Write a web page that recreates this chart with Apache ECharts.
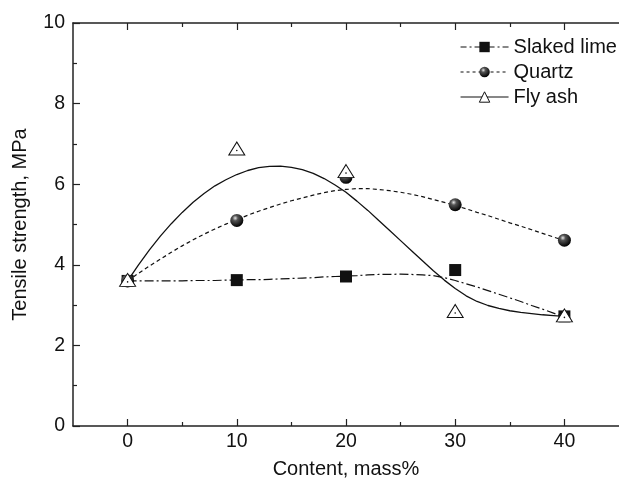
<!DOCTYPE html>
<html>
<head>
<meta charset="utf-8">
<script src="https://cdn.jsdelivr.net/npm/echarts@6/dist/echarts.min.js"></script>
<style>
  html, body { margin: 0; padding: 0; background: #fff; }
  #chart { width: 619px; height: 484px; }
</style>
</head>
<body>
<div id="chart"></div>
<script>
// Measured tensile strength (MPa) at each additive content (mass%)
const contents = [0, 10, 20, 30, 40];
const slakedLime = [3.6, 3.62, 3.71, 3.87, 2.72];
const quartz = [3.6, 5.1, 6.17, 5.49, 4.61];
const flyAsh = [3.6, 6.86, 6.3, 2.83, 2.72];

// Fitted trend curves, sampled at every 1 mass%
const fitContents = [0, 1, 2, 3, 4, 5, 6, 7, 8, 9, 10, 11, 12, 13, 14, 15, 16, 17, 18, 19, 20,
                     21, 22, 23, 24, 25, 26, 27, 28, 29, 30, 31, 32, 33, 34, 35, 36, 37, 38, 39, 40];
const slakedLimeFit = [3.60, 3.60, 3.60, 3.60, 3.60, 3.60, 3.61, 3.61, 3.61, 3.62, 3.62,
                       3.63, 3.63, 3.64, 3.65, 3.66, 3.67, 3.68, 3.70, 3.71, 3.72,
                       3.73, 3.75, 3.76, 3.76, 3.77, 3.76, 3.75, 3.73, 3.68, 3.61,
                       3.53, 3.45, 3.36, 3.27, 3.18, 3.09, 2.99, 2.90, 2.80, 2.70];
const quartzFit = [3.60, 3.79, 3.97, 4.14, 4.31, 4.47, 4.62, 4.76, 4.89, 5.01, 5.12,
                   5.23, 5.33, 5.42, 5.51, 5.59, 5.66, 5.73, 5.79, 5.84, 5.87,
                   5.89, 5.89, 5.87, 5.84, 5.80, 5.75, 5.69, 5.62, 5.55, 5.47,
                   5.39, 5.30, 5.22, 5.13, 5.04, 4.96, 4.87, 4.78, 4.69, 4.60];
const flyAshFit = [3.60, 4.00, 4.37, 4.71, 5.02, 5.30, 5.55, 5.77, 5.96, 6.11, 6.24,
                   6.34, 6.41, 6.44, 6.45, 6.42, 6.36, 6.27, 6.14, 5.98, 5.80,
                   5.58, 5.35, 5.10, 4.85, 4.60, 4.35, 4.10, 3.85, 3.62, 3.41,
                   3.23, 3.09, 2.99, 2.92, 2.86, 2.82, 2.79, 2.76, 2.74, 2.72];

// Axis ticks
const xMajorTicks = [0, 10, 20, 30, 40];
const xMinorTicks = [5, 15, 25, 35];
const seriesNames = ['Slaked lime', 'Quartz', 'Fly ash'];

const FONT = "'Liberation Sans', Arial, Helvetica, sans-serif";
const INK = '#111';
const AXIS = '#222';

const pairs = (xs, ys) => xs.map((x, i) => [x, ys[i]]);

const sphere = {
  type: 'radial', x: 0.38, y: 0.32, r: 0.68,
  colorStops: [
    { offset: 0, color: '#e8e8e8' },
    { offset: 0.3, color: '#555' },
    { offset: 1, color: '#000' }
  ]
};

function xAxisDef(position, ticks, len, withLabels, withLine) {
  return {
    type: 'value', position: position, min: -5, max: 45,
    axisLine: { show: withLine, onZero: false, lineStyle: { color: AXIS, width: 1.5 } },
    axisTick: { show: true, inside: true, length: len, customValues: ticks,
                lineStyle: { color: AXIS, width: 1.2 } },
    axisLabel: withLabels
      ? { show: true, customValues: ticks, margin: 6, color: INK, fontFamily: FONT, fontSize: 19.5 }
      : { show: false },
    splitLine: { show: false }
  };
}

const xAxes = [
  Object.assign(xAxisDef('bottom', xMajorTicks, 7, true, true), {
    name: 'Content, mass%', nameLocation: 'middle', nameGap: 33,
    nameTextStyle: { color: INK, fontFamily: FONT, fontSize: 20 }
  }),
  xAxisDef('bottom', xMinorTicks, 4, false, false),
  xAxisDef('top', xMajorTicks, 7, false, true),
  xAxisDef('top', xMinorTicks, 4, false, false)
];

const chart = echarts.init(document.getElementById('chart'), null, { renderer: 'canvas' });

chart.setOption({
  backgroundColor: '#fff',
  animation: false,
  grid: { left: 73, top: 23, bottom: 54, right: -9, containLabel: false },
  legend: {
    orient: 'vertical', left: 455, top: 32,
    itemWidth: 48, itemHeight: 13, itemGap: 5,
    textStyle: { color: INK, fontFamily: FONT, fontSize: 20, lineHeight: 20 },
    data: [
      { name: seriesNames[0], itemStyle: { color: '#111', borderWidth: 0 },
        lineStyle: { color: '#111', width: 1.1, type: [6, 3, 2, 3] } },
      { name: seriesNames[1], itemStyle: { color: sphere, borderWidth: 0 },
        lineStyle: { color: '#111', width: 1.1, type: [3, 3] } },
      { name: seriesNames[2], itemStyle: { color: '#fff', borderColor: '#111', borderWidth: 1 },
        lineStyle: { color: '#111', width: 1.1, type: 'solid' } }
    ]
  },
  xAxis: xAxes,
  yAxis: {
    type: 'value', min: 0, max: 10, interval: 2,
    name: 'Tensile strength, MPa', nameLocation: 'middle', nameGap: 43,
    nameTextStyle: { color: INK, fontFamily: FONT, fontSize: 20 },
    axisLine: { show: true, onZero: false, lineStyle: { color: AXIS, width: 1.5 } },
    axisTick: { show: true, inside: true, length: 7, lineStyle: { color: AXIS, width: 1.2 } },
    minorTick: { show: true, splitNumber: 2, length: 4, lineStyle: { color: AXIS, width: 1.2 } },
    axisLabel: { margin: 8, color: INK, fontFamily: FONT, fontSize: 19.5 },
    splitLine: { show: false }
  },
  series: [
    // fitted curves
    { name: seriesNames[0], type: 'line', xAxisIndex: 0, data: pairs(fitContents, slakedLimeFit),
      smooth: false, symbol: 'rect', showSymbol: false, z: 2,
      itemStyle: { color: '#111' },
      lineStyle: { color: '#111', width: 1.2, type: [9, 3, 2, 3] } },
    { name: seriesNames[1], type: 'line', xAxisIndex: 0, data: pairs(fitContents, quartzFit),
      smooth: false, symbol: 'circle', showSymbol: false, z: 2,
      itemStyle: { color: '#111' },
      lineStyle: { color: '#111', width: 1.2, type: [4, 3] } },
    { name: seriesNames[2], type: 'line', xAxisIndex: 0, data: pairs(fitContents, flyAshFit),
      smooth: false, symbol: 'triangle', showSymbol: false, z: 2,
      itemStyle: { color: '#fff', borderColor: '#111' },
      lineStyle: { color: '#111', width: 1.3, type: 'solid' } },
    // measured points
    { name: seriesNames[0], type: 'scatter', xAxisIndex: 0, data: pairs(contents, slakedLime),
      symbol: 'rect', symbolSize: 12, z: 3,
      itemStyle: { color: '#111', opacity: 1 } },
    { name: seriesNames[1], type: 'scatter', xAxisIndex: 0, data: pairs(contents, quartz),
      symbol: 'circle', symbolSize: 13, z: 4,
      itemStyle: { color: sphere, opacity: 1 } },
    { name: seriesNames[2], type: 'scatter', xAxisIndex: 0, data: pairs(contents, flyAsh),
      symbol: 'triangle', symbolSize: [16, 13], symbolOffset: [0, -1], z: 5,
      itemStyle: { color: '#fff', borderColor: '#111', borderWidth: 1, opacity: 1 } },
    { name: seriesNames[2], type: 'scatter', xAxisIndex: 0, data: pairs(contents, flyAsh),
      symbol: 'circle', symbolSize: 1.6, symbolOffset: [0, 1], z: 6, silent: true,
      itemStyle: { color: '#111', opacity: 1 } }
  ]
});
</script>
</body>
</html>
